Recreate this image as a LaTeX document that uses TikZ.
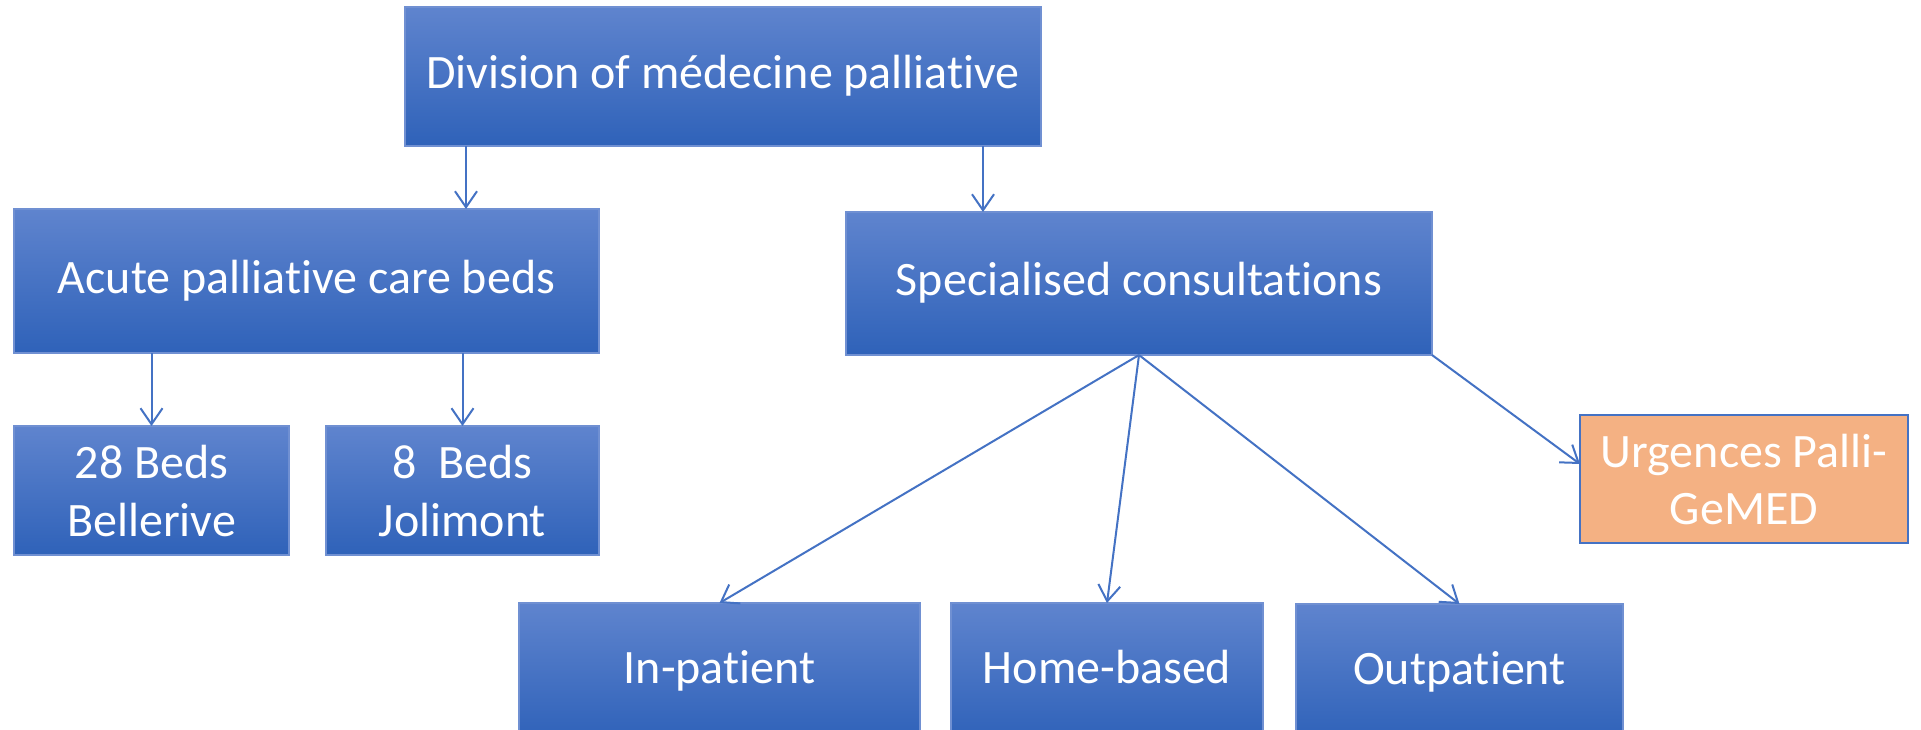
\documentclass[tikz,border=0pt]{standalone}
\usepackage{fontspec}
\setmainfont{Carlito}[Ligatures={NoCommon,NoContextual}]
\usetikzlibrary{arrows.meta}
\definecolor{boxtop}{HTML}{5F84CE}
\definecolor{boxbot}{HTML}{2F62B9}
\definecolor{boxline}{HTML}{7090D2}
\definecolor{arrowc}{HTML}{4472C4}
\definecolor{urgfill}{HTML}{F4B183}
\tikzset{
  bluebox/.style={rectangle, draw=boxline, line width=1.5pt, top color=boxtop, bottom color=boxbot,
    text=white, inner sep=0pt, outer sep=0pt, align=center,
    font=\fontsize{48}{58}\selectfont},
  oneline/.style={text height=34.5pt, text depth=10.5pt},
  orangebox/.style={rectangle, draw=arrowc, line width=2pt, fill=urgfill,
    text=white, inner sep=0pt, outer sep=0pt, align=center,
    font=\fontsize{48}{57}\selectfont},
  arr/.style={draw=arrowc, line width=2pt, -{Straight Barb[length=16pt,width=22pt,line width=2pt]}}
}
\begin{document}
\begin{tikzpicture}[x=1pt,y=-1pt]
\clip (0,0) rectangle (1921,729);
\fill[white] (0,0) rectangle (1921,729);
\node[bluebox, oneline, minimum width=636pt, minimum height=139pt] (top) at (723,76.5) {Division of médecine palliative};
\node[bluebox, oneline, minimum width=585pt, minimum height=144pt] (acute) at (306.5,281) {Acute palliative care beds};
\node[bluebox, oneline, minimum width=586pt, minimum height=143pt] (spec) at (1139,283.5) {Specialised consultations};
\node[bluebox, minimum width=275pt, minimum height=129pt] (b28) at (151.5,490.5) {28 Beds\\Bellerive};
\node[bluebox, minimum width=273pt, minimum height=129pt] (b8) at (462.5,490.5) {8\ \ Beds\\Jolimont};
\node[orangebox, minimum width=328pt, minimum height=128pt] (urg) at (1744,479) {Urgences Palli-\\GeMED};
\node[bluebox, oneline, minimum width=401pt, minimum height=137pt] (inp) at (719.5,671.5) {In-patient};
\node[bluebox, oneline, minimum width=312pt, minimum height=137pt] (home) at (1107,671.5) {Home-based};
\node[bluebox, oneline, minimum width=327pt, minimum height=136pt] (out) at (1459.5,672) {Outpatient};
\coordinate (ca) at (466,0);
\coordinate (cs) at (983,0);
\draw[arr] (top.south -| ca) -- (acute.north -| ca);
\draw[arr] (top.south -| cs) -- (spec.north -| cs);
\draw[arr] (acute.south -| b28.north) -- (b28.north);
\draw[arr] (acute.south -| b8.north) -- (b8.north);
\draw[arr] (spec.south) -- (inp.north);
\draw[arr] (spec.south) -- (home.north);
\draw[arr] (spec.south) -- (out.north);
\draw[arr] (spec.south east) -- ([yshift=15pt]urg.west);
\end{tikzpicture}
\end{document}
